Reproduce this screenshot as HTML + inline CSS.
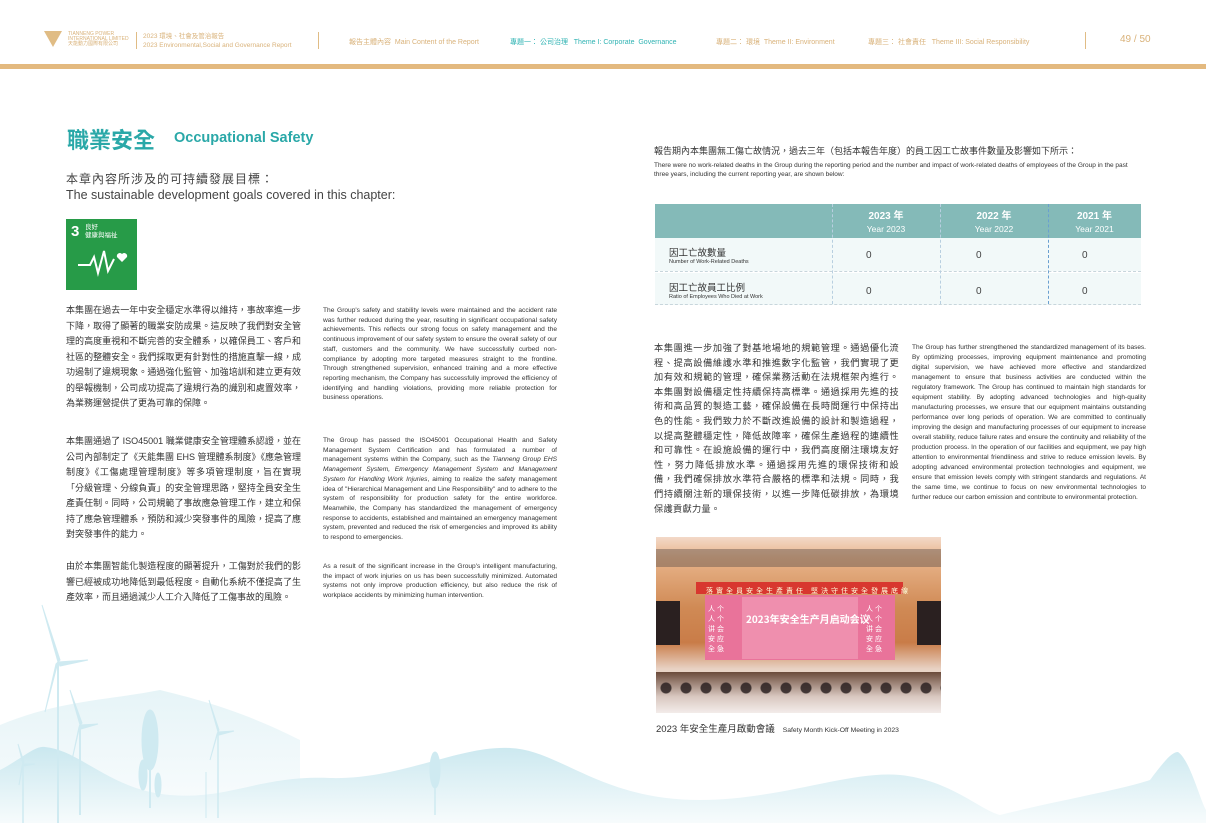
<!DOCTYPE html>
<html><head><meta charset="utf-8"><style>
*{margin:0;padding:0;box-sizing:border-box}
body{width:1206px;height:823px;position:relative;overflow:hidden;background:#fff;font-family:"Liberation Sans","Noto Sans CJK TC",sans-serif;color:#333}
.a{position:absolute}
.h{font-size:7px;color:#d9b27a;white-space:nowrap}
.t{color:#2fb3b3}
.cn{font-size:9px;line-height:15.5px;color:#333;text-align:justify;letter-spacing:0}
.en{font-size:6.6px;line-height:9.7px;color:#333;text-align:justify}
</style></head><body>
<svg class="a" style="left:0;top:580px" width="1206" height="243" viewBox="0 580 1206 243">
<defs><linearGradient id="g" x1="0" y1="0" x2="0" y2="1"><stop offset="0" stop-color="#c6e6ee"/><stop offset="1" stop-color="#f6fbfc"/></linearGradient>
<linearGradient id="g2" x1="0" y1="0" x2="0" y2="1"><stop offset="0" stop-color="#e6f4f7"/><stop offset="1" stop-color="#fbfdfe"/></linearGradient></defs>
<path d="M0 725 C60 700 110 700 160 690 C200 700 240 710 300 740 L300 823 L0 823Z" fill="url(#g2)"/>
<path d="M0 770 C20 760 35 745 45 747 C80 750 110 790 170 795 C230 800 260 775 330 778 C400 780 460 745 510 748 C560 750 600 800 700 800 C780 800 850 770 900 775 C950 780 980 810 1000 815 C1060 800 1120 790 1150 780 C1165 760 1172 752 1178 752 C1190 760 1200 800 1206 810 L1206 823 L0 823Z" fill="url(#g)" opacity="0.9"/>
<g stroke="#cfeaf1" fill="#cfeaf1">
<line x1="58" y1="662" x2="58" y2="823" stroke-width="2"/><polygon points="58,662 42,605 60,660"/><polygon points="58,662 88,660 60,666"/><polygon points="58,662 45,712 56,664"/>
<line x1="80" y1="725" x2="80" y2="815" stroke-width="2"/><polygon points="80,725 70,690 82,723"/><polygon points="80,725 98,724 81,729"/><polygon points="80,725 72,760 79,727"/>
<line x1="23" y1="764" x2="23" y2="823" stroke-width="1.5"/><polygon points="23,764 18,744 24,762"/><polygon points="23,764 35,764 24,766"/><polygon points="23,764 19,785 22,766"/>
<line x1="218" y1="732" x2="218" y2="818" stroke-width="1.5"/><polygon points="218,732 209,700 219,730"/><polygon points="218,732 234,731 219,735"/><polygon points="218,732 210,760 217,734"/>
<line x1="206" y1="772" x2="206" y2="818" stroke-width="1"/>
<ellipse cx="150" cy="740" rx="8" ry="30"/><line x1="150" y1="760" x2="150" y2="808" stroke-width="2"/>
<ellipse cx="143" cy="775" rx="4" ry="15"/><ellipse cx="158" cy="785" rx="3" ry="12"/>
<ellipse cx="435" cy="770" rx="5" ry="18"/><line x1="435" y1="780" x2="435" y2="815" stroke-width="1.5"/>
</g>
</svg>

<!-- header -->
<svg class="a" style="left:44px;top:31px" width="18" height="16"><polygon points="0,0 18,0 9,16" fill="#e0bc85"/></svg>
<div class="a h" style="left:68px;top:32px;font-size:5px;line-height:5px">TIANNENG POWER<br>INTERNATIONAL LIMITED<br>天能動力國際有限公司</div>
<div class="a" style="left:136px;top:32px;width:1px;height:17px;background:#e0bc85"></div>
<div class="a h" style="left:143px;top:32px;line-height:9px;font-size:6.5px">2023 環境、社會及管治報告<br>2023 Environmental,Social and Governance Report</div>
<div class="a" style="left:318px;top:32px;width:1px;height:17px;background:#e0bc85"></div>
<div class="a h" style="left:349px;top:37px">報告主體內容 &nbsp;Main Content of the Report</div>
<div class="a h t" style="left:510px;top:37px">專題一： 公司治理 &nbsp; Theme I: Corporate &nbsp;Governance</div>
<div class="a h" style="left:716px;top:37px">專題二： 環境 &nbsp;Theme II: Environment</div>
<div class="a h" style="left:868px;top:37px">專題三： 社會責任 &nbsp; Theme III: Social Responsibility</div>
<div class="a" style="left:1085px;top:32px;width:1px;height:17px;background:#e0bc85"></div>
<div class="a h" style="left:1120px;top:34px;font-size:10px">49 / 50</div>
<div class="a" style="left:0;top:64px;width:1206px;height:5px;background:#e3b97f"></div>

<!-- left -->
<div class="a" style="left:67px;top:123px;font-size:22px;color:#2aa8a8;font-weight:bold">職業安全</div>
<div class="a" style="left:174px;top:130px;font-size:14.5px;color:#2aa8a8;font-weight:bold">Occupational Safety</div>
<div class="a" style="left:66px;top:170px;font-size:12px;color:#444;letter-spacing:1px">本章內容所涉及的可持續發展目標：</div>
<div class="a" style="left:66px;top:188px;font-size:12.5px;color:#444">The sustainable development goals covered in this chapter:</div>
<div class="a" style="left:66px;top:219px;width:71px;height:71px;background:#279b48">
<div class="a" style="left:5px;top:4px;color:#fff;font-size:15px;font-weight:bold">3</div>
<div class="a" style="left:19px;top:5px;color:#fff;font-size:6.5px;line-height:8px">良好<br>健康與福祉</div>
<svg class="a" style="left:10px;top:26px" width="55" height="36"><polyline points="2,20 14,20 18,12 22,28 28,6 32,26 38,14" fill="none" stroke="#fff" stroke-width="2"/><path d="M46 17 l-5-5 a3 3 0 0 1 5-3 a3 3 0 0 1 5 3z" fill="#fff"/></svg>
</div>

<div class="a cn" style="left:66px;top:303px;width:235px">本集團在過去一年中安全穩定水準得以維持，事故率進一步下降，取得了顯著的職業安防成果。這反映了我們對安全管理的高度重視和不斷完善的安全體系，以確保員工、客戶和社區的整體安全。我們採取更有針對性的措施直擊一線，成功遏制了違規現象。通過強化監管、加強培訓和建立更有效的舉報機制，公司成功提高了違規行為的識別和處置效率，為業務運營提供了更為可靠的保障。</div>
<div class="a en" style="left:323px;top:306px;width:234px">The Group's safety and stability levels were maintained and the accident rate was further reduced during the year, resulting in significant occupational safety achievements. This reflects our strong focus on safety management and the continuous improvement of our safety system to ensure the overall safety of our staff, customers and the community. We have successfully curbed non-compliance by adopting more targeted measures straight to the frontline. Through strengthened supervision, enhanced training and a more effective reporting mechanism, the Company has successfully improved the efficiency of identifying and handling violations, providing more reliable protection for business operations.</div>

<div class="a cn" style="left:66px;top:434px;width:235px">本集團通過了 ISO45001 職業健康安全管理體系認證，並在公司內部制定了《天能集團 EHS 管理體系制度》《應急管理制度》《工傷處理管理制度》等多項管理制度，旨在實現「分級管理、分線負責」的安全管理思路，堅持全員安全生產責任制。同時，公司規範了事故應急管理工作，建立和保持了應急管理體系，預防和減少突發事件的風險，提高了應對突發事件的能力。</div>
<div class="a en" style="left:323px;top:436px;width:234px">The Group has passed the ISO45001 Occupational Health and Safety Management System Certification and has formulated a number of management systems within the Company, such as the <i>Tianneng Group EHS Management System, Emergency Management System and Management System for Handling Work Injuries</i>, aiming to realize the safety management idea of "Hierarchical Management and Line Responsibility" and to adhere to the system of responsibility for production safety for the entire workforce. Meanwhile, the Company has standardized the management of emergency response to accidents, established and maintained an emergency management system, prevented and reduced the risk of emergencies and improved its ability to respond to emergencies.</div>

<div class="a cn" style="left:66px;top:559px;width:235px">由於本集團智能化製造程度的顯著提升，工傷對於我們的影響已經被成功地降低到最低程度。自動化系統不僅提高了生產效率，而且通過減少人工介入降低了工傷事故的風險。</div>
<div class="a en" style="left:323px;top:562px;width:234px">As a result of the significant increase in the Group's intelligent manufacturing, the impact of work injuries on us has been successfully minimized. Automated systems not only improve production efficiency, but also reduce the risk of workplace accidents by minimizing human intervention.</div>

<!-- right -->
<div class="a" style="left:654px;top:144px;font-size:9px;color:#333">報告期內本集團無工傷亡故情況，過去三年（包括本報告年度）的員工因工亡故事件數量及影響如下所示：</div>
<div class="a en" style="left:654px;top:161px;width:490px;font-size:6.5px;line-height:9px;text-align:left">There were no work-related deaths in the Group during the reporting period and the number and impact of work-related deaths of employees of the Group in the past three years, including the current reporting year, are shown below:</div>

<div class="a" style="left:655px;top:204px;width:486px;height:34px;background:#84bab8"></div>
<div class="a" style="left:655px;top:238px;width:486px;height:33px;background:#f2f9f9"></div>
<div class="a" style="left:655px;top:273px;width:486px;height:32px;background:#f2f9f9;border-bottom:1px dashed #c8d6dc"></div>
<div class="a" style="left:655px;top:271px;width:486px;border-top:1px dashed #c8d6dc"></div>
<div class="a" style="left:832px;top:204px;height:100px;border-left:1px dashed #b8cfe0"></div>
<div class="a" style="left:940px;top:204px;height:100px;border-left:1px dashed #b8cfe0"></div>
<div class="a" style="left:1048px;top:204px;height:100px;border-left:1px dashed #6a9fd0"></div>
<div class="a" style="left:832px;top:210px;width:108px;text-align:center;color:#fff;font-size:10px;font-weight:bold;line-height:13px">2023 年<br><span style="font-weight:normal;font-size:8.5px">Year 2023</span></div>
<div class="a" style="left:940px;top:210px;width:108px;text-align:center;color:#fff;font-size:10px;font-weight:bold;line-height:13px">2022 年<br><span style="font-weight:normal;font-size:8.5px">Year 2022</span></div>
<div class="a" style="left:1048px;top:210px;width:93px;text-align:center;color:#fff;font-size:10px;font-weight:bold;line-height:13px">2021 年<br><span style="font-weight:normal;font-size:8.5px">Year 2021</span></div>
<div class="a" style="left:669px;top:245px;font-size:9.5px;color:#333">因工亡故數量</div>
<div class="a" style="left:669px;top:259px;font-size:5.5px;color:#333">Number of Work-Related Deaths</div>
<div class="a" style="left:669px;top:280px;font-size:9.5px;color:#333">因工亡故員工比例</div>
<div class="a" style="left:669px;top:294px;font-size:5.5px;color:#333">Ratio of Employees Who Died at Work</div>
<div class="a" style="left:866px;top:250px;font-size:10px;color:#444">0</div>
<div class="a" style="left:976px;top:250px;font-size:10px;color:#444">0</div>
<div class="a" style="left:1082px;top:250px;font-size:10px;color:#444">0</div>
<div class="a" style="left:866px;top:286px;font-size:10px;color:#444">0</div>
<div class="a" style="left:976px;top:286px;font-size:10px;color:#444">0</div>
<div class="a" style="left:1082px;top:286px;font-size:10px;color:#444">0</div>

<div class="a cn" style="left:654px;top:341px;width:245px;font-size:9.2px;line-height:14.6px;letter-spacing:0.3px">本集團進一步加強了對基地場地的規範管理。通過優化流程、提高設備維護水準和推進數字化監管，我們實現了更加有效和規範的管理，確保業務活動在法規框架內進行。本集團對設備穩定性持續保持高標準。通過採用先進的技術和高品質的製造工藝，確保設備在長時間運行中保持出色的性能。我們致力於不斷改進設備的設計和製造過程，以提高整體穩定性，降低故障率，確保生產過程的連續性和可靠性。在設施設備的運行中，我們高度關注環境友好性，努力降低排放水準。通過採用先進的環保技術和設備，我們確保排放水準符合嚴格的標準和法規。同時，我們持續關注新的環保技術，以進一步降低碳排放，為環境保護貢獻力量。</div>
<div class="a en" style="left:912px;top:343px;width:234px;font-size:6.5px;line-height:10px">The Group has further strengthened the standardized management of its bases. By optimizing processes, improving equipment maintenance and promoting digital supervision, we have achieved more effective and standardized management to ensure that business activities are conducted within the regulatory framework. The Group has continued to maintain high standards for equipment stability. By adopting advanced technologies and high-quality manufacturing processes, we ensure that our equipment maintains outstanding performance over long periods of operation. We are committed to continually improving the design and manufacturing processes of our equipment to increase overall stability, reduce failure rates and ensure the continuity and reliability of the production process. In the operation of our facilities and equipment, we pay high attention to environmental friendliness and strive to reduce emission levels. By adopting advanced environmental protection technologies and equipment, we ensure that emission levels comply with stringent standards and regulations. At the same time, we continue to focus on new environmental technologies to further reduce our carbon emission and contribute to environmental protection.</div>

<!-- photo -->
<div class="a" style="left:656px;top:537px;width:285px;height:176px;background:linear-gradient(#f3d9c8 0,#e8b48a 12%,#d08a55 40%,#c97c48 60%,#e8d2c4 75%,#f2e6e0 100%);overflow:hidden">
<div class="a" style="left:0;top:12px;width:285px;height:18px;background:#6b5a50;opacity:.5"></div>
<div class="a" style="left:40px;top:45px;width:207px;height:12px;background:#d8372f"></div>
<div class="a" style="left:50px;top:49px;width:187px;font-size:7px;color:#ffd;white-space:nowrap;letter-spacing:3px">落實全員安全生產責任 堅決守住安全發展底線</div>
<div class="a" style="left:49px;top:58px;width:190px;height:65px;background:#e9739a"></div>
<div class="a" style="left:86px;top:60px;width:116px;height:62px;background:#ef8fae"></div>
<div class="a" style="left:90px;top:74px;font-size:10px;color:#fff;font-weight:bold;white-space:nowrap;font-family:'Noto Sans CJK SC',sans-serif">2023年安全生产月启动会议</div>
<div class="a" style="left:52px;top:68px;font-size:7px;color:#fff;line-height:10px;width:30px">人 个<br>人 个<br>讲 会<br>安 应<br>全 急</div>
<div class="a" style="left:210px;top:68px;font-size:7px;color:#fff;line-height:10px;width:30px">人 个<br>人 个<br>讲 会<br>安 应<br>全 急</div>
<div class="a" style="left:0;top:64px;width:24px;height:44px;background:#2a2020"></div>
<div class="a" style="left:261px;top:64px;width:24px;height:44px;background:#2a2020"></div>
<div class="a" style="left:0;top:135px;width:285px;height:41px;background:linear-gradient(#6a4a3a,#d9c8c0 60%,#f3ecea)"></div>
<div class="a" style="left:0;top:140px;width:285px;height:22px;background:radial-gradient(circle,#2a2020 0 5px,transparent 6px) 0 0/20px 22px;opacity:.85"></div>
</div>
<div class="a" style="left:656px;top:721px;font-size:9.5px;color:#333;white-space:nowrap">2023 年安全生產月啟動會議 &nbsp;&nbsp;<span style="font-size:6.8px">Safety Month Kick-Off Meeting in 2023</span></div>
</body></html>
